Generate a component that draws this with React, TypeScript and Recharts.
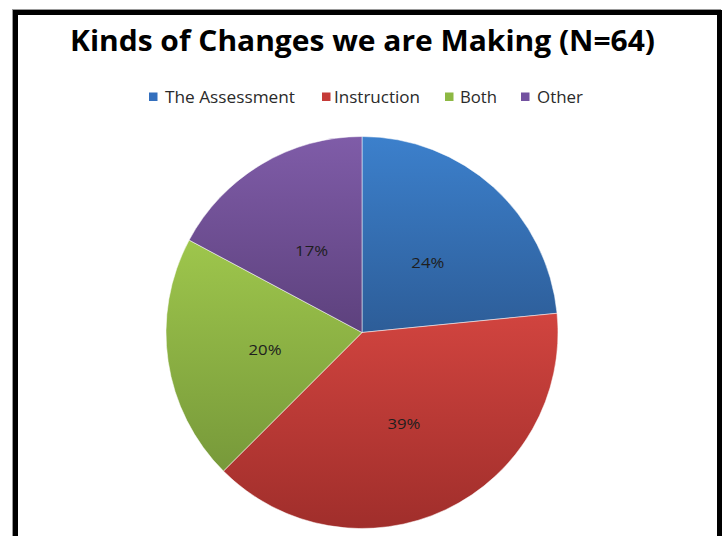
import { PieChart, Pie, Cell } from "recharts";

// counts out of N=64
const categories = ["The Assessment", "Instruction", "Both", "Other"];
const counts = [15, 25, 13, 11];
const percentLabels = ["24%", "39%", "20%", "17%"];

const topColors = ["#3c80cc", "#d1443f", "#9ec64c", "#7f5ca8"];
const bottomColors = ["#2d5d98", "#a02e2b", "#77993a", "#5d417d"];
const legendColors = ["#336fbd", "#c53b38", "#8db843", "#7352a0"];

const data = categories.map((name, i) => ({ name, value: counts[i] }));

const legendItems = [
  { box: 149, text: 165, width: 130 },
  { box: 322, text: 334, width: 86 },
  { box: 445, text: 460, width: 37 },
  { box: 521, text: 537, width: 46 },
];

const RAD = Math.PI / 180;

const renderLabel = (props: any) => {
  const { cx, cy, midAngle, outerRadius, index } = props;
  const r = outerRadius * 0.5;
  const x = cx + r * Math.cos(-midAngle * RAD);
  const y = cy + r * Math.sin(-midAngle * RAD) + 2;
  return (
    <text
      x={x}
      y={y}
      textAnchor="middle"
      dominantBaseline="central"
      fill="#1e1e1e"
      fontSize={15}
      fontFamily="'Open Sans', sans-serif"
      textLength={33}
      lengthAdjust="spacingAndGlyphs"
    >
      {percentLabels[index]}
    </text>
  );
};

export default function App() {
  return (
    <div
      style={{
        position: "absolute",
        left: 0,
        top: 0,
        width: 722,
        height: 536,
        overflow: "hidden",
        background: "#fff",
      }}
    >
      <div
        style={{
          position: "absolute",
          left: 13,
          top: 10,
          width: 709,
          height: 600,
          boxSizing: "border-box",
          border: "5px solid #000",
          boxShadow: "-1px -1px 0 #999",
        }}
      />
      <svg
        width={722}
        height={120}
        style={{ position: "absolute", left: 0, top: 0 }}
      >
        <text
          x={362.5}
          y={51}
          textAnchor="middle"
          fontFamily="'Open Sans', sans-serif"
          fontWeight="bold"
          fontSize={28}
          fill="#000"
          textLength={585}
          lengthAdjust="spacingAndGlyphs"
        >
          Kinds of Changes we are Making (N=64)
        </text>
        {legendItems.map((it, i) => (
          <g key={categories[i]}>
            <rect x={it.box} y={92.5} width={8.5} height={8.5} fill={legendColors[i]} />
            <text
              x={it.text}
              y={103}
              fontFamily="'Open Sans', sans-serif"
              fontSize={16}
              fill="#2a2a2a"
              textLength={it.width}
              lengthAdjust="spacingAndGlyphs"
            >
              {categories[i]}
            </text>
          </g>
        ))}
      </svg>
      <div style={{ position: "absolute", left: 0, top: 0 }}>
        <PieChart width={722} height={536} margin={{ top: 0, right: 0, bottom: 0, left: 0 }}>
          <defs>
            {topColors.map((c, i) => (
              <linearGradient key={i} id={`slice${i}`} x1="0" y1="0" x2="0" y2="1">
                <stop offset="0%" stopColor={c} />
                <stop offset="100%" stopColor={bottomColors[i]} />
              </linearGradient>
            ))}
          </defs>
          <Pie
            data={data}
            dataKey="value"
            nameKey="name"
            cx={362}
            cy={332.5}
            outerRadius={196}
            startAngle={90}
            endAngle={-270}
            stroke="#ffffff"
            strokeWidth={1}
            strokeOpacity={0.5}
            label={renderLabel}
            labelLine={false}
            isAnimationActive={false}
          >
            {data.map((d, i) => (
              <Cell key={d.name} fill={`url(#slice${i})`} />
            ))}
          </Pie>
        </PieChart>
      </div>
    </div>
  );
}
